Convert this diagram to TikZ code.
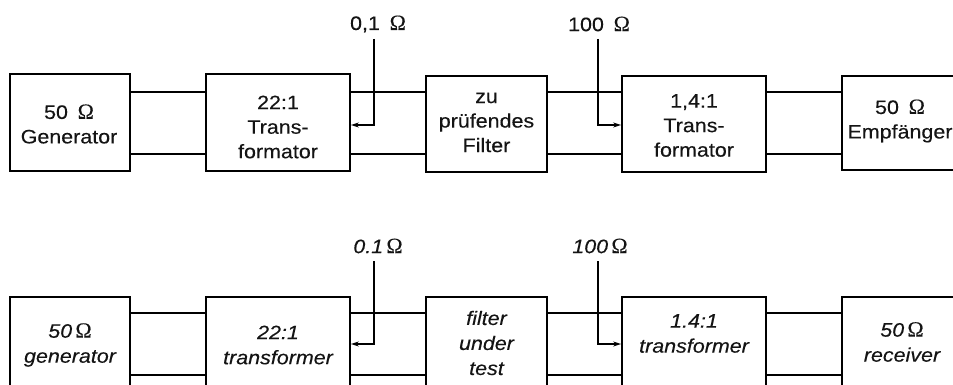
\documentclass[tikz,border=0pt]{standalone}
\usepackage{fontspec}
\setmainfont[FakeStretch=1.1,FakeBold=0.25]{Liberation Sans}
\newfontfamily\omf[Scale=1.12,FakeBold=0.25]{Liberation Serif}
\usetikzlibrary{arrows.meta}
\newcommand{\Om}{{\omf\upshape Ω}}
\newcommand{\wsp}{\hspace{0.5em}}
\begin{document}
\begin{tikzpicture}[x=1pt,y=-1pt,
  box/.style={draw,line width=1.8pt,inner sep=0pt,minimum width=#1},
  box/.default=144pt,
  txt/.style={align=center,inner sep=0pt,text=black!92,font=\fontsize{19.5}{24.5}\selectfont},
  itxt/.style={txt,font=\fontsize{19.5}{25}\selectfont\itshape},
  wire/.style={line width=1.8pt},
  arr/.style={line width=1.8pt,-{Stealth[length=8pt,width=5pt]}}]
\useasboundingbox (0,0) rectangle (953,385);
\clip (0,0) rectangle (953,385);
% ---------- top row ----------
\node[box=120pt,minimum height=97pt] (g1) at (70,122.5) {};
\node[box=144pt,minimum height=97pt] (t1) at (278,122.5) {};
\node[box=121pt,minimum height=96pt] (f1) at (486.5,124) {};
\node[box=144pt,minimum height=96pt] (u1) at (694,124) {};
\node[box=116pt,minimum height=94pt] (r1) at (900,123) {};
\node[txt] (g1t) at (69,124) {50\wsp\Om\\Generator};
\node[txt] (t1t) at (278,127) {22:1\\Trans-\\formator};
\node[txt] (f1t) at (486.5,122.5) {zu\\prüfendes\\Filter};
\node[txt] (u1t) at (694,125.5) {1,4:1\\Trans-\\formator};
\node[txt] (r1t) at (900,121) {50\wsp\Om\\Empfänger};
\foreach \a/\b in {g1/t1,t1/f1,f1/u1,u1/r1}{
  \draw[wire] (\a.east |- 0,92) -- (\b.west |- 0,92);
  \draw[wire] (\a.east |- 0,154) -- (\b.west |- 0,154);
}
\node[txt] (l1) at (378,24) {0,1\wsp\Om};
\node[txt] (l2) at (599,24) {100\wsp\Om};
\coordinate (a1) at (374,39);
\coordinate (a2) at (598,39);
\draw[arr] (a1) |- (t1.east |- 0,125);
\draw[arr] (a2) |- (u1.west |- 0,125);
% ---------- bottom row ----------
\node[box=120pt,minimum height=97pt] (g2) at (70,345.5) {};
\node[box=144pt,minimum height=97pt] (t2) at (278,345.5) {};
\node[box=121pt,minimum height=97pt] (f2) at (486.5,345.5) {};
\node[box=144pt,minimum height=97pt] (u2) at (694,345.5) {};
\node[box=116pt,minimum height=97pt] (r2) at (900,345.5) {};
\node[itxt] (g2t) at (70,345) {50\,\Om\\generator};
\node[itxt] (t2t) at (278,345) {22:1\\transformer};
\node[itxt] (f2t) at (486.5,343) {filter\\under\\test};
\node[itxt] (u2t) at (694,333.5) {1.4:1\\transformer};
\node[itxt] (r2t) at (902,342) {50\,\Om\\receiver};
\foreach \a/\b in {g2/t2,t2/f2,f2/u2,u2/r2}{
  \draw[wire] (\a.east |- 0,313) -- (\b.west |- 0,313);
  \draw[wire] (\a.east |- 0,375) -- (\b.west |- 0,375);
}
\node[itxt] (l3) at (378,246) {0.1\,\Om};
\node[itxt] (l4) at (600,246) {100\,\Om};
\coordinate (a3) at (374,261);
\coordinate (a4) at (598,261);
\draw[arr] (a3) |- (t2.east |- 0,344);
\draw[arr] (a4) |- (u2.west |- 0,344);
\end{tikzpicture}
\end{document}
